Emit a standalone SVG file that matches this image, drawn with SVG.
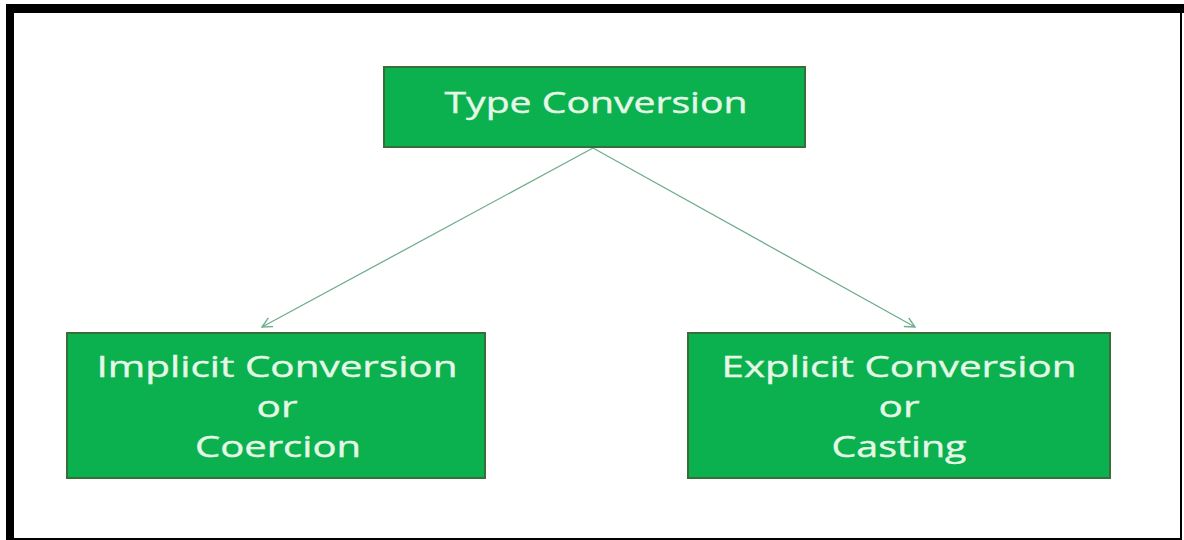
<svg xmlns="http://www.w3.org/2000/svg" width="1184" height="540" viewBox="0 0 1184 540">
  <defs>
    <style>
      .box { fill: #0bb04f; stroke: #3a6e37; stroke-width: 2; }
      .label { font-family: "Open Sans", "Liberation Sans", sans-serif; font-size: 29px; fill: #e4f8e6; stroke: #e4f8e6; stroke-width: 0.4; text-anchor: middle; }
      .edge { stroke: #6fae8c; stroke-width: 1.3; fill: none; }
    </style>
    <marker id="arrow" viewBox="0 0 12 12" refX="11" refY="6" markerWidth="12" markerHeight="12" markerUnits="userSpaceOnUse" orient="auto">
      <path d="M1,1 L11,6 L1,11" fill="none" stroke="#6fae8c" stroke-width="1.4"/>
    </marker>
  </defs>

  <!-- page background and frame -->
  <rect x="0" y="0" width="1184" height="540" fill="#ffffff"/>
  <rect x="6" y="4" width="1178" height="9" fill="#000000"/>
  <rect x="6" y="4" width="8" height="536" fill="#000000"/>
  <rect x="1180" y="4" width="2" height="536" fill="#000000"/>
  <rect x="6" y="538" width="1176" height="2" fill="#000000"/>

  <!-- connectors -->
  <g id="connectors">
    <line class="edge" x1="593" y1="148" x2="262" y2="327" marker-end="url(#arrow)"/>
    <line class="edge" x1="593" y1="148" x2="915" y2="327" marker-end="url(#arrow)"/>
  </g>

  <!-- root node -->
  <g id="type-conversion">
    <rect class="box" x="384" y="67" width="421" height="80"/>
    <text class="label" x="596" y="113" font-size="30" textLength="303" lengthAdjust="spacingAndGlyphs">Type Conversion</text>
  </g>

  <!-- left child -->
  <g id="implicit-conversion">
    <rect class="box" x="67" y="333" width="418" height="145"/>
    <text class="label" x="277" y="377" textLength="361" lengthAdjust="spacingAndGlyphs">Implicit Conversion</text>
    <text class="label" x="277" y="417" textLength="41" lengthAdjust="spacingAndGlyphs">or</text>
    <text class="label" x="278" y="457" textLength="166" lengthAdjust="spacingAndGlyphs">Coercion</text>
  </g>

  <!-- right child -->
  <g id="explicit-conversion">
    <rect class="box" x="688" y="333" width="422" height="145"/>
    <text class="label" x="899" y="377" textLength="355" lengthAdjust="spacingAndGlyphs">Explicit Conversion</text>
    <text class="label" x="899" y="417" textLength="41" lengthAdjust="spacingAndGlyphs">or</text>
    <text class="label" x="899" y="457" textLength="135" lengthAdjust="spacingAndGlyphs">Casting</text>
  </g>
</svg>
